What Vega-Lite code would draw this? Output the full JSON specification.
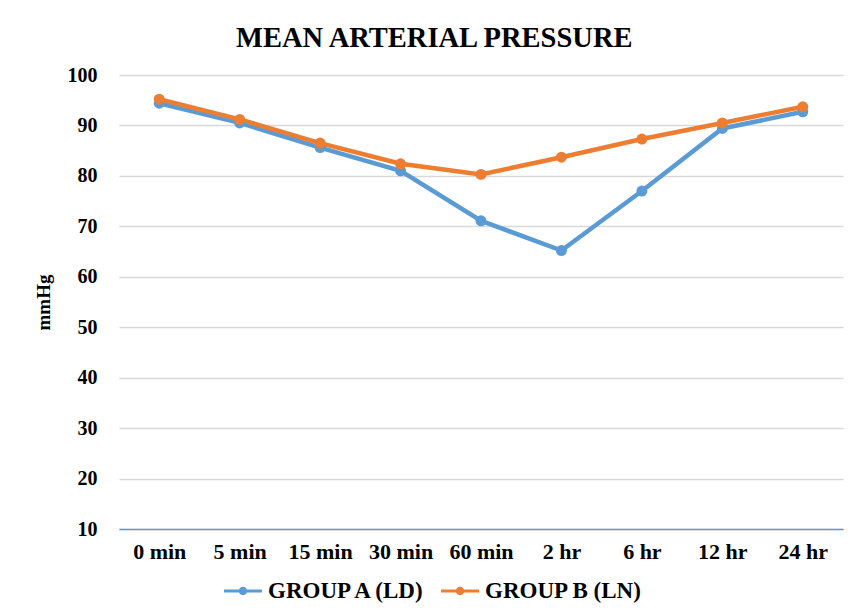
{
  "$schema": "https://vega.github.io/schema/vega-lite/v6.json",
  "autosize": "none",
  "width": 724,
  "height": 454,
  "padding": {"left": 119, "top": 75, "right": 11, "bottom": 81},
  "background": "white",
  "title": {
    "text": "MEAN ARTERIAL PRESSURE",
    "anchor": "start",
    "frame": "group",
    "dx": 117,
    "dy": 38,
    "baseline": "alphabetic",
    "offset": 28,
    "font": "Liberation Serif",
    "fontSize": 28.5,
    "fontWeight": "bold",
    "color": "#000000"
  },
  "data": {
    "values": [
      {"time": "0 min", "group": "GROUP A (LD)", "map": 94.4},
      {"time": "5 min", "group": "GROUP A (LD)", "map": 90.5},
      {"time": "15 min", "group": "GROUP A (LD)", "map": 85.6},
      {"time": "30 min", "group": "GROUP A (LD)", "map": 81.0},
      {"time": "60 min", "group": "GROUP A (LD)", "map": 71.1},
      {"time": "2 hr", "group": "GROUP A (LD)", "map": 65.2},
      {"time": "6 hr", "group": "GROUP A (LD)", "map": 77.0},
      {"time": "12 hr", "group": "GROUP A (LD)", "map": 89.4},
      {"time": "24 hr", "group": "GROUP A (LD)", "map": 92.7},
      {"time": "0 min", "group": "GROUP B (LN)", "map": 95.2},
      {"time": "5 min", "group": "GROUP B (LN)", "map": 91.2},
      {"time": "15 min", "group": "GROUP B (LN)", "map": 86.5},
      {"time": "30 min", "group": "GROUP B (LN)", "map": 82.4},
      {"time": "60 min", "group": "GROUP B (LN)", "map": 80.3},
      {"time": "2 hr", "group": "GROUP B (LN)", "map": 83.7},
      {"time": "6 hr", "group": "GROUP B (LN)", "map": 87.3},
      {"time": "12 hr", "group": "GROUP B (LN)", "map": 90.5},
      {"time": "24 hr", "group": "GROUP B (LN)", "map": 93.7}
    ]
  },
  "mark": {"type": "line", "strokeWidth": 4.5, "point": {"filled": true, "size": 120, "opacity": 1}},
  "encoding": {
    "x": {
      "field": "time",
      "type": "ordinal",
      "sort": ["0 min", "5 min", "15 min", "30 min", "60 min", "2 hr", "6 hr", "12 hr", "24 hr"],
      "scale": {"type": "point", "padding": 0.5},
      "axis": {
        "title": null,
        "labelAngle": 0,
        "labelFont": "Liberation Serif",
        "labelFontSize": 22,
        "labelFontWeight": "bold",
        "labelColor": "#000000",
        "labelPadding": 12,
        "ticks": false,
        "grid": false,
        "domainColor": "#5b9bd5",
        "domainWidth": 1.5
      }
    },
    "y": {
      "field": "map",
      "type": "quantitative",
      "scale": {"domain": [10, 100], "nice": false, "zero": false},
      "axis": {
        "title": "mmHg",
        "titleFont": "Liberation Serif",
        "titleFontSize": 19,
        "titleFontWeight": "bold",
        "titleColor": "#000000",
        "titlePadding": 14,
        "values": [10, 20, 30, 40, 50, 60, 70, 80, 90, 100],
        "labelFont": "Liberation Serif",
        "labelFontSize": 20,
        "labelFontWeight": "bold",
        "labelColor": "#000000",
        "labelPadding": 22,
        "ticks": false,
        "domain": false,
        "gridColor": "#d9d9d9",
        "gridWidth": 1.5
      }
    },
    "color": {
      "field": "group",
      "type": "nominal",
      "scale": {"domain": ["GROUP A (LD)", "GROUP B (LN)"], "range": ["#5b9bd5", "#ed7d31"]},
      "legend": {
        "title": null,
        "orient": "none",
        "direction": "horizontal",
        "legendX": 105,
        "legendY": 497,
        "symbolType": "M-1,-0.08H1V0.08H-1Z M0.22,0A0.22,0.22 0 1,1 -0.22,0A0.22,0.22 0 1,1 0.22,0Z",
        "symbolSize": 1444,
        "symbolStrokeWidth": 0,
        "labelFont": "Liberation Serif",
        "labelFontSize": 23,
        "labelFontWeight": "bold",
        "labelColor": "#000000",
        "labelOffset": 6,
        "columnPadding": 14,
        "encode": {"symbols": {"update": {"fill": {"scale": "color", "field": "value"}, "opacity": {"value": 1}}}}
      }
    }
  },
  "config": {"view": {"stroke": null}}
}
